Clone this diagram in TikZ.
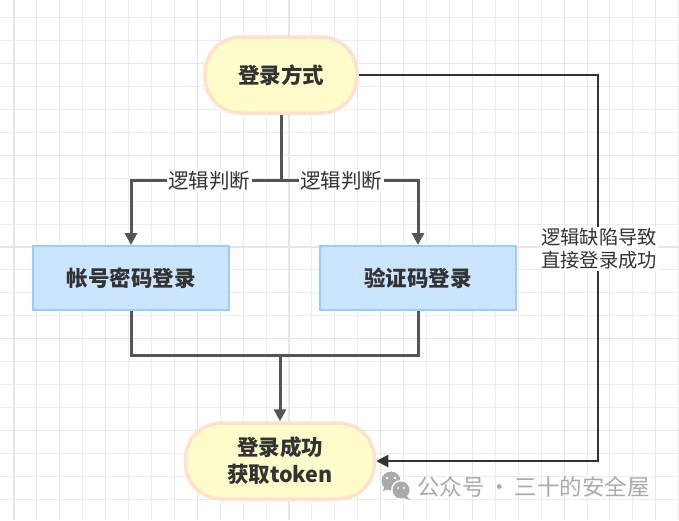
\documentclass[tikz,border=0pt]{standalone}
\usepackage{fontspec}
\setmainfont{Noto Sans CJK SC}
\newfontfamily\cjk{Noto Sans CJK SC}
\usetikzlibrary{arrows.meta}
\definecolor{gridminor}{HTML}{EDEDED}
\definecolor{gridmajor}{HTML}{E6E6E6}
\definecolor{yfill}{HTML}{FFFCCC}
\definecolor{yline}{HTML}{FFE1CC}
\definecolor{bfill}{HTML}{CCE5FF}
\definecolor{bline}{HTML}{99CCFF}
\definecolor{conn}{HTML}{555555}
\definecolor{txt}{HTML}{333333}
\definecolor{wm}{HTML}{AAAAAA}
\tikzset{
  stadium/.style={draw=yline, fill=yfill, line width=3.5pt, rounded corners=36pt,
    minimum width=#1, minimum height=76pt, inner sep=0pt, align=center,
    font=\cjk\bfseries\fontsize{21.5}{27}\selectfont, text=txt},
  bluebox/.style={draw=bline, fill=bfill, line width=2pt, minimum width=196pt,
    minimum height=64pt, inner sep=0pt,
    font=\cjk\bfseries\fontsize{21.5}{24}\selectfont, text=txt},
  conn/.style={draw=conn, line width=3pt},
  arr/.style={-{Triangle[length=12pt,width=12pt]}},
  lbl/.style={fill=white, inner sep=1.5pt, font=\cjk\fontsize{20.5}{23}\selectfont, text=txt, align=center},
  lbl2/.style={fill=white, inner sep=1.5pt, font=\cjk\fontsize{19.3}{23}\selectfont, text=txt, align=center},
}
\begin{document}
\begin{tikzpicture}[x=1pt,y=-1pt]
\useasboundingbox (0,0) rectangle (679,520);
\fill[white] (0,0) rectangle (679,520);
% grid
\foreach \i in {0,...,30} {
  \pgfmathsetmacro{\gx}{14+22.92*\i}
  \draw[gridminor, line width=1pt] (\gx,0) -- (\gx,520);
}
\foreach \i in {0,...,23} {
  \pgfmathsetmacro{\gy}{17.8+22.92*\i}
  \draw[gridminor, line width=1pt] (0,\gy) -- (679,\gy);
}
\foreach \i in {0,...,7} {
  \pgfmathsetmacro{\gx}{14+91.68*\i}
  \draw[gridmajor, line width=1.1pt] (\gx,0) -- (\gx,520);
}
\foreach \i in {0,...,5} {
  \pgfmathsetmacro{\gy}{63.6+91.68*(\i-1)}
  \draw[gridmajor, line width=1.1pt] (0,\gy) -- (679,\gy);
}
% nodes
\node[stadium=152pt] (way) at (281,75) {登录方式};
\node[bluebox] (pwd) at (131,278) {帐号密码登录};
\node[bluebox] (code) at (418,278) {验证码登录};
\node[stadium=189pt] (ok) at (280,461) {登录成功\\获取token};
% junction coordinates
\coordinate (j1) at (281,180);
\coordinate (j2) at (280,355);
\coordinate (c1) at (598,75);
\coordinate (c2) at (598,461);
% connectors
\draw[conn, arr] (way.south) -- (j1) -| (pwd.north);
\draw[conn, arr] (j1) -| (code.north);
\node[lbl] (l1) at (209,181) {逻辑判断};
\node[lbl] (l2) at (341,181) {逻辑判断};
\draw[conn] (pwd.south) |- (j2);
\draw[conn] (code.south) |- (j2);
\draw[conn, arr] (j2) -- (ok.north);
\draw[draw=txt, line width=2pt, -{Triangle[length=12pt,width=12pt]}] (way.east) -- (c1) -- (c2) -- (ok.east);
\node[lbl2] (l3) at (599,249) {逻辑缺陷导致\\直接登录成功};
% watermark
\fill[wm] (391,481) circle (9.5pt);
\fill[wm] (386,483) -- (383,491) -- (392,488) -- cycle;
\fill[white] (401,490) circle (10pt);
\fill[wm] (401,490) circle (8.5pt);
\fill[wm] (406,495) -- (410,500) -- (400,497) -- cycle;
\fill[white] (387,478) circle (1.4pt) (395,478) circle (1.4pt);
\fill[white] (398,488) circle (1.2pt) (404,488) circle (1.2pt);
\node[anchor=west, text=wm, font=\cjk\fontsize{22.5}{24}\selectfont, inner sep=0pt] (wmt) at (417,487) {公众号\,·\,三十的安全屋};
\end{tikzpicture}
\end{document}
